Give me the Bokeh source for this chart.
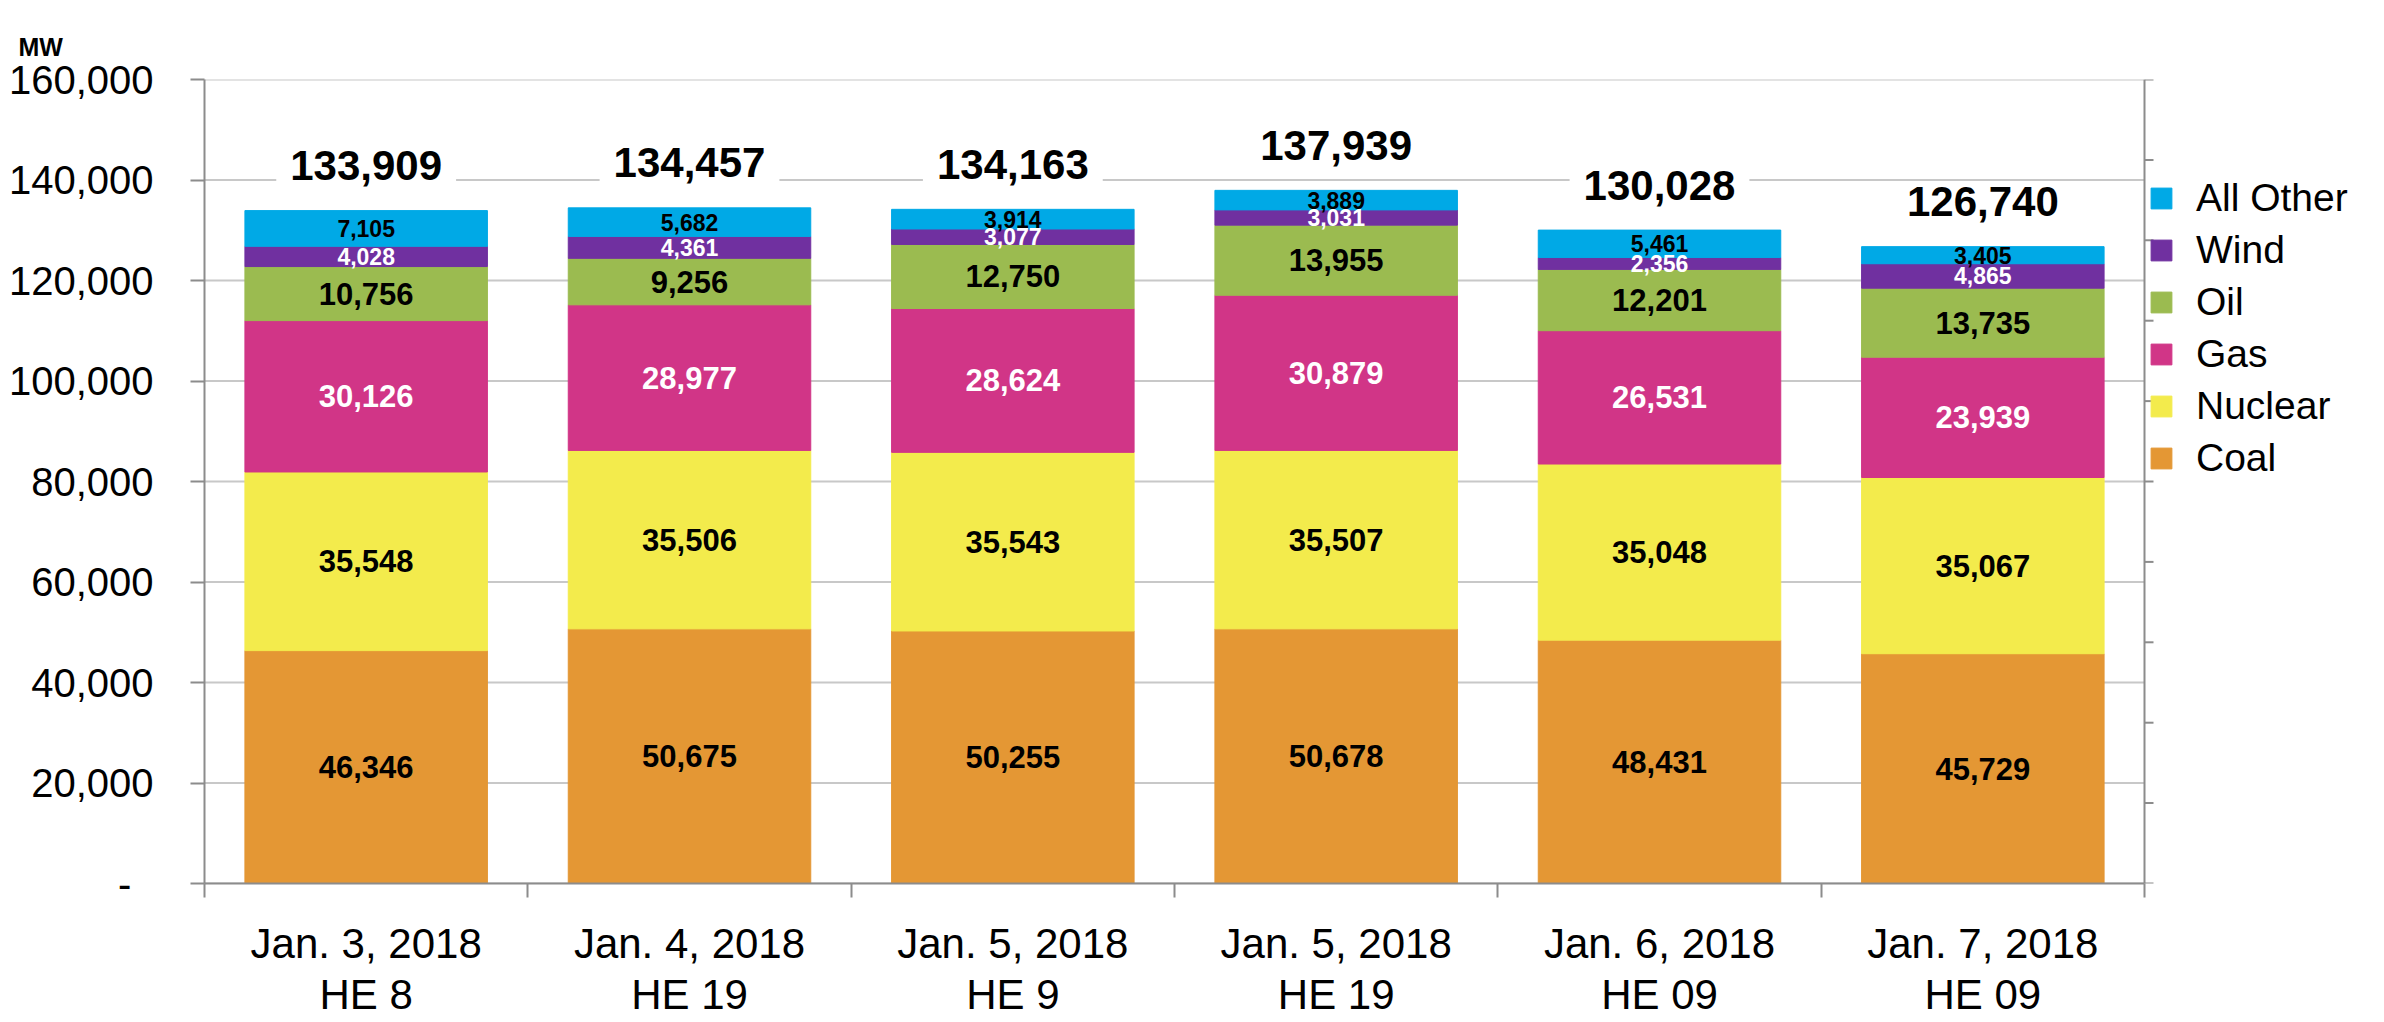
import numpy as np
from bokeh.plotting import figure
from bokeh.models import (ColumnDataSource, Range1d, LinearAxis, FixedTicker, NumeralTickFormatter,
                          Legend, LegendItem, Title)
from bokeh.core.properties import value
from bokeh.embed import file_html
from bokeh.resources import INLINE

# ---------------- data ----------------
dates = ["Jan. 3, 2018", "Jan. 4, 2018", "Jan. 5, 2018", "Jan. 5, 2018", "Jan. 6, 2018", "Jan. 7, 2018"]
hours = ["HE 8", "HE 19", "HE 9", "HE 19", "HE 09", "HE 09"]
coal = [46346, 50675, 50255, 50678, 48431, 45729]
nuclear = [35548, 35506, 35543, 35507, 35048, 35067]
gas = [30126, 28977, 28624, 30879, 26531, 23939]
oil = [10756, 9256, 12750, 13955, 12201, 13735]
wind = [4028, 4361, 3077, 3031, 2356, 4865]
other = [7105, 5682, 3914, 3889, 5461, 3405]
totals = [133909, 134457, 134163, 137939, 130028, 126740]
series_names = ["Coal", "Nuclear", "Gas", "Oil", "Wind", "All Other"]
y_ticks = [0, 20000, 40000, 60000, 80000, 100000, 120000, 140000, 160000]
y_max = 160000
right_divisions = 10

# ---------------- style / layout ----------------
FONT = "Liberation Sans"
colors = ["#E49734", "#F3EB4C", "#D13587", "#9BBB50", "#7030A0", "#00A9E6"]
label_colors = ["black", "black", "white", "black", "white", "black"]
label_sizes = ["31px", "31px", "31px", "31px", "23px", "23px"]
AXIS_C = "#8C8C8C"
GRID_C = "#C8C8C8"
PLOT_W = 1940      # pixel width of the bar area
FRAME_W = 2172     # bar area + legend area
FRAME_H = 804

n = len(dates)
x_end = n * FRAME_W / PLOT_W
px = n / PLOT_W    # data units per pixel along x
cats = [f"{d}\n{h}" for d, h in zip(dates, hours)]
xpos = list(np.arange(n) + 0.5)
keys = ["coal", "nuclear", "gas", "oil", "wind", "other"]
vals = [coal, nuclear, gas, oil, wind, other]

data = dict(x=xpos, total=totals, total_lbl=[f"{t:,}" for t in totals])
arr = np.array(vals, dtype=float)
tops = np.cumsum(arr, axis=0)
mids = tops - arr / 2.0
for k, v, m in zip(keys, vals, mids):
    data[k] = v
    data["mid_" + k] = list(m)
    data["lbl_" + k] = [f"{x:,}" for x in v]
src = ColumnDataSource(data)

p = figure(frame_width=FRAME_W, frame_height=FRAME_H,
           x_range=Range1d(0, x_end), y_range=Range1d(0, y_max),
           output_backend="svg", toolbar_location=None,
           x_axis_location=None, y_axis_location=None,
           min_border_left=204, min_border_right=0, min_border_top=79, min_border_bottom=120)
p.outline_line_color = None
p.background_fill_color = "white"
p.xgrid.visible = False
p.ygrid.visible = False

# unit label "MW" at top-left
p.add_layout(Title(text="MW", align="left", offset=-186, standoff=37,
                   text_font=FONT, text_font_size="25px", text_font_style="bold",
                   text_color="black"), "above")

# left axis
yax = LinearAxis(ticker=FixedTicker(ticks=y_ticks),
                 formatter=NumeralTickFormatter(format="0,0"))
yax.major_label_overrides = {0: "-\u00a0\u00a0"}
yax.major_label_text_font = FONT
yax.major_label_text_font_size = "40px"
yax.major_label_text_color = "black"
yax.major_label_standoff = 37
yax.major_tick_out = 14
yax.major_tick_in = 0
yax.minor_tick_out = 0
yax.minor_tick_in = 0
yax.axis_line_color = AXIS_C
yax.axis_line_width = 2
yax.major_tick_line_color = AXIS_C
yax.major_tick_line_width = 2
p.add_layout(yax, "left")

# bottom: separators between the categories
eax = LinearAxis(ticker=FixedTicker(ticks=list(range(n + 1))), bounds=(0, n))
eax.major_label_text_font_size = "1px"
eax.major_label_text_alpha = 0
eax.major_label_standoff = 0
eax.major_tick_out = 14
eax.major_tick_in = 0
eax.minor_tick_out = 0
eax.minor_tick_in = 0
eax.axis_line_color = AXIS_C
eax.axis_line_width = 2
eax.major_tick_line_color = AXIS_C
eax.major_tick_line_width = 2
p.add_layout(eax, "below")

# bottom: category labels
xax = LinearAxis(ticker=FixedTicker(ticks=xpos))
xax.major_label_overrides = {float(x): c for x, c in zip(xpos, cats)}
xax.major_label_text_font = FONT
xax.major_label_text_font_size = "42px"
xax.major_label_text_color = "black"
xax.major_label_text_line_height = 1.1
xax.major_label_standoff = 22
xax.major_tick_line_color = None
xax.major_tick_out = 0
xax.major_tick_in = 0
xax.minor_tick_out = 0
xax.minor_tick_in = 0
xax.axis_line_color = None
p.add_layout(xax, "below")

# horizontal grid lines, limited to the bar area
p.segment(x0=0, x1=n, y0=y_ticks, y1=y_ticks, line_color=GRID_C, line_width=2, level="underlay")

# secondary (unlabelled) axis on the right edge of the bar area
p.segment(x0=n, x1=n, y0=0, y1=y_max, line_color=AXIS_C, line_width=2)
r_ticks = list(np.linspace(0, y_max, right_divisions + 1))
p.segment(x0=n, x1=n + 9 * px, y0=r_ticks, y1=r_ticks, line_color=AXIS_C, line_width=2)

# bars
rends = p.vbar_stack(keys, x="x", width=0.75, color=colors, source=src)

# segment labels
for k, c, s in zip(keys, label_colors, label_sizes):
    p.text(x="x", y="mid_" + k, text="lbl_" + k, source=src,
           text_font=value(FONT), text_font_size=s, text_font_style="bold",
           text_color=c, text_align="center", text_baseline="middle")

# totals
p.text(x="x", y="total", text="total_lbl", source=src, y_offset=-45,
       text_font=value(FONT), text_font_size="42px", text_font_style="bold",
       text_color="black", text_align="center", text_baseline="middle",
       background_fill_color="white", padding=[14, 6])

# legend (top to bottom: All Other ... Coal), in the area right of the bars
items = [LegendItem(label=nm, renderers=[r]) for nm, r in zip(series_names, rends)][::-1]
legend = Legend(items=items, location=(PLOT_W + 4, 403), orientation="vertical",
                glyph_width=26, glyph_height=26, label_standoff=22, spacing=8,
                padding=0, margin=0, border_line_color=None, background_fill_alpha=0,
                label_text_font=FONT, label_text_font_size="39px",
                label_text_color="black")
p.add_layout(legend)

open("out.html", "w").write(file_html(p, INLINE))
